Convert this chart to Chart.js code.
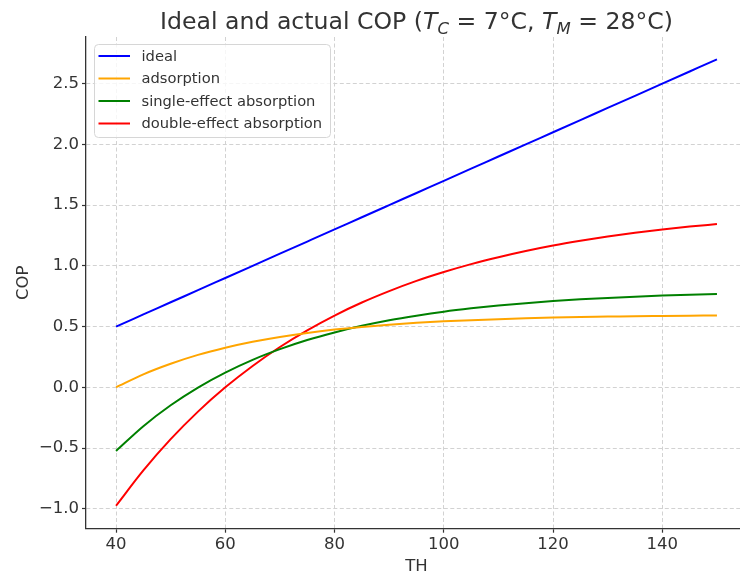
<!DOCTYPE html>
<html>
<head>
<meta charset="utf-8">
<title>Ideal and actual COP</title>
<script src="https://cdn.jsdelivr.net/npm/chart.js@4.4.0/dist/chart.umd.min.js"></script>
<style>
    html, body { margin: 0; padding: 0; overflow: hidden; background: #ffffff; }
    canvas { display: block; }
</style>
</head>
<body>
<canvas id="graficoCOP" width="750" height="574"></canvas>
<script>
// valores (TH em °C)
const temperaturas = [40, 45, 50, 55, 60, 65, 70, 75, 80, 85, 90, 95, 100, 105, 110, 115, 120, 125, 130, 135, 140, 145, 150];
const ideal = [0.50, 0.60, 0.70, 0.80, 0.90, 1.00, 1.10, 1.20, 1.30, 1.40, 1.50, 1.60, 1.70, 1.80, 1.90, 2.00, 2.10, 2.20, 2.30, 2.40, 2.50, 2.60, 2.70];
const adsorcao = [0.000, 0.107, 0.194, 0.267, 0.326, 0.375, 0.415, 0.448, 0.475, 0.497, 0.516, 0.531, 0.543, 0.553, 0.561, 0.568, 0.574, 0.579, 0.582, 0.586, 0.588, 0.590, 0.592];
const simplesEfeito = [-0.524, -0.320, -0.148, -0.002, 0.121, 0.226, 0.314, 0.389, 0.452, 0.506, 0.552, 0.590, 0.623, 0.650, 0.673, 0.693, 0.710, 0.724, 0.736, 0.746, 0.755, 0.762, 0.768];
const duploEfeito = [-0.975, -0.684, -0.427, -0.200, 0.000, 0.176, 0.332, 0.469, 0.591, 0.698, 0.792, 0.876, 0.949, 1.014, 1.071, 1.122, 1.167, 1.206, 1.241, 1.272, 1.299, 1.323, 1.344];

const rotulos = ['ideal', 'adsorption', 'single-effect absorption', 'double-effect absorption'];
const cores = ['#0000ff', '#ffa500', '#008000', '#ff0000'];
const ticksX = [40, 60, 80, 100, 120, 140];
const ticksY = [-1.0, -0.5, 0.0, 0.5, 1.0, 1.5, 2.0, 2.5];

const FONTE = '"DejaVu Sans", Verdana, sans-serif';
const COR_TEXTO = '#333333';

function pontos(serie) {
    return temperaturas.map((t, i) => ({x: t, y: serie[i]}));
}

function formatarTick(v) {
    if (Math.abs(v) < 1e-9) v = 0;
    return v.toFixed(1).replace('-', '\u2212');
}

// titulo com T em italico e subscritos
const pluginTitulo = {
    id: 'tituloCOP',
    afterDraw(chart) {
        const ctx = chart.ctx;
        const area = chart.chartArea;
        const tam = 23.6;
        const sub = tam * 0.7;
        const partes = [
            {t: 'Ideal and actual COP (', s: ''},
            {t: 'T', s: 'italic '},
            {t: 'C', s: 'italic ', sub: true},
            {t: ' = 7°C, ', s: ''},
            {t: 'T', s: 'italic '},
            {t: 'M', s: 'italic ', sub: true},
            {t: ' = 28°C)', s: ''}
        ];
        ctx.save();
        let total = 0;
        partes.forEach((p) => {
            ctx.font = p.s + (p.sub ? sub : tam) + 'px ' + FONTE;
            p.w = ctx.measureText(p.t).width;
            total += p.w;
        });
        let x = (area.left + area.right) / 2 - total / 2;
        const base = 28.5;
        ctx.fillStyle = COR_TEXTO;
        ctx.textBaseline = 'alphabetic';
        ctx.textAlign = 'left';
        partes.forEach((p) => {
            ctx.font = p.s + (p.sub ? sub : tam) + 'px ' + FONTE;
            ctx.fillText(p.t, x, p.sub ? base + 5 : base);
            x += p.w;
        });
        ctx.restore();
    }
};

// legenda dentro da area do grafico, canto superior esquerdo
const pluginLegenda = {
    id: 'legendaCOP',
    afterDraw(chart) {
        const ctx = chart.ctx;
        const x0 = 94.5, y0 = 44.5, larg = 236, alt = 93;
        ctx.save();
        ctx.beginPath();
        ctx.roundRect(x0, y0, larg, alt, 4);
        ctx.fillStyle = 'rgba(255,255,255,0.8)';
        ctx.fill();
        ctx.strokeStyle = '#d6d6d6';
        ctx.lineWidth = 1;
        ctx.stroke();
        ctx.font = '14.7px ' + FONTE;
        ctx.textBaseline = 'middle';
        chart.data.datasets.forEach((ds, i) => {
            const y = 56 + i * 22.5;
            ctx.strokeStyle = ds.borderColor;
            ctx.lineWidth = 2;
            ctx.beginPath();
            ctx.moveTo(98.5, y);
            ctx.lineTo(130, y);
            ctx.stroke();
            ctx.fillStyle = COR_TEXTO;
            ctx.fillText(ds.label, 141.5, y + 1);
        });
        ctx.restore();
    }
};

function inicializar() {
    const ctx = document.getElementById('graficoCOP');
    const series = [ideal, adsorcao, simplesEfeito, duploEfeito];

    new Chart(ctx, {
        type: 'line',
        data: {
            datasets: series.map((s, i) => ({
                label: rotulos[i],
                data: pontos(s),
                borderColor: cores[i],
                backgroundColor: cores[i],
                borderWidth: 2,
                pointRadius: 0,
                fill: false,
                cubicInterpolationMode: 'monotone'
            }))
        },
        options: {
            responsive: false,
            animation: false,
            layout: {padding: {top: 37, left: 0, right: 3, bottom: 0}},
            plugins: {
                legend: {display: false},
                title: {display: false},
                tooltip: {enabled: false}
            },
            scales: {
                x: {
                    type: 'linear',
                    min: 34.5,
                    max: 155.5,
                    afterFit: (scale) => { scale.height = 45.3; },
                    afterBuildTicks: (scale) => { scale.ticks = ticksX.map((v) => ({value: v})); },
                    ticks: {
                        color: COR_TEXTO,
                        font: {family: FONTE, size: 16.5},
                        padding: 2,
                        maxRotation: 0,
                        callback: (v) => String(v)
                    },
                    grid: {color: '#d2d2d2', lineWidth: 1, tickLength: 4, tickColor: '#333333', tickWidth: 1.2},
                    border: {display: true, color: '#333333', width: 1.3, dash: [4, 2.5]},
                    title: {
                        display: true,
                        text: 'TH',
                        color: COR_TEXTO,
                        font: {family: FONTE, size: 16.5},
                        padding: {top: 0, bottom: -3}
                    }
                },
                y: {
                    min: -1.164,
                    max: 2.884,
                    afterFit: (scale) => { scale.width = 86; },
                    afterBuildTicks: (scale) => { scale.ticks = ticksY.map((v) => ({value: v})); },
                    ticks: {
                        color: COR_TEXTO,
                        font: {family: FONTE, size: 16.5},
                        padding: 3,
                        callback: formatarTick
                    },
                    grid: {color: '#d2d2d2', lineWidth: 1, tickLength: 4, tickColor: '#333333', tickWidth: 1.2},
                    border: {display: true, color: '#333333', width: 1.3, dash: [4, 2.5]},
                    title: {
                        display: true,
                        text: 'COP',
                        color: COR_TEXTO,
                        font: {family: FONTE, size: 16.5},
                        padding: {top: 14, bottom: 0}
                    }
                }
            }
        },
        plugins: [pluginTitulo, pluginLegenda]
    });
}

inicializar();
</script>
</body>
</html>
